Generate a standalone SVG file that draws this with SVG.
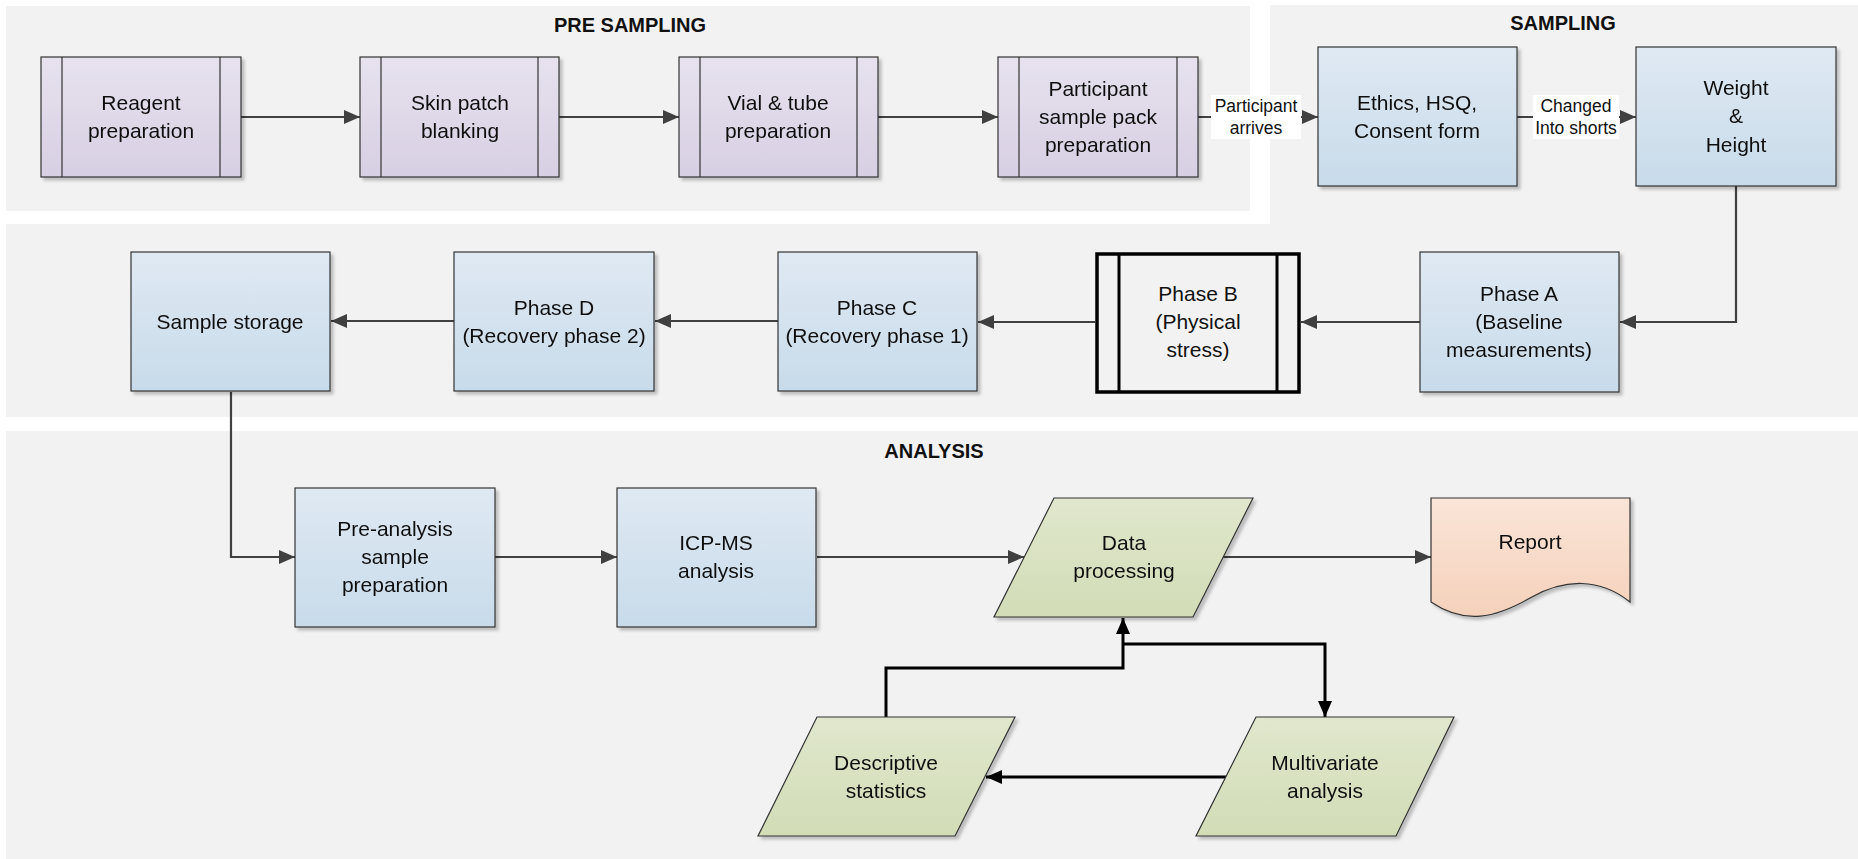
<svg xmlns="http://www.w3.org/2000/svg" width="1858" height="859" viewBox="0 0 1858 859">
<defs>
<linearGradient id="gP" x1="0" y1="0" x2="0" y2="1"><stop offset="0" stop-color="#e7e2ee"/><stop offset="1" stop-color="#d7cfe3"/></linearGradient>
<linearGradient id="gB" x1="0" y1="0" x2="0" y2="1"><stop offset="0" stop-color="#dfe9f3"/><stop offset="1" stop-color="#c8dbea"/></linearGradient>
<linearGradient id="gG" x1="0" y1="0" x2="0" y2="1"><stop offset="0" stop-color="#e0e7cd"/><stop offset="1" stop-color="#d2dcb6"/></linearGradient>
<linearGradient id="gR" x1="0" y1="0" x2="0" y2="1"><stop offset="0" stop-color="#fae5d8"/><stop offset="1" stop-color="#f5d1bb"/></linearGradient>
<filter id="sh" x="-10%" y="-10%" width="130%" height="130%"><feDropShadow dx="3" dy="3" stdDeviation="1.5" flood-color="#000" flood-opacity="0.22"/></filter>
<marker id="ag" markerUnits="userSpaceOnUse" markerWidth="16" markerHeight="14" refX="16" refY="7" orient="auto"><path d="M0,0 L16,7 L0,14 Z" fill="#404040"/></marker>
<marker id="ak" markerUnits="userSpaceOnUse" markerWidth="16" markerHeight="14" refX="16" refY="7" orient="auto"><path d="M0,0 L16,7 L0,14 Z" fill="#000"/></marker>
<style>
.panel{fill:#f2f2f2}
.t{font-family:"Liberation Sans",Arial,sans-serif;font-size:21px;fill:#111;text-anchor:middle}
.lbl{font-family:"Liberation Sans",Arial,sans-serif;font-size:17.5px;fill:#111;text-anchor:middle}
.ttl{font-family:"Liberation Sans",Arial,sans-serif;font-size:20px;font-weight:bold;fill:#111;text-anchor:middle}
.pp{fill:url(#gP);stroke:#333;stroke-width:1.2}
.bb{fill:url(#gB);stroke:#333;stroke-width:1.2}
.gg{fill:url(#gG);stroke:#333;stroke-width:1.2}
.rr{fill:url(#gR);stroke:#333;stroke-width:1.2}
.il{stroke:#333;stroke-width:1.2}
.cg{fill:none;stroke:#404040;stroke-width:2.2;marker-end:url(#ag)}
.cgn{fill:none;stroke:#404040;stroke-width:2.2}
.ck{fill:none;stroke:#000;stroke-width:3;marker-end:url(#ak)}
.ckn{fill:none;stroke:#000;stroke-width:3}
</style>
</defs>
<rect width="1858" height="859" fill="#fff"/>
<g id="panels">
<rect class="panel" x="6" y="6" width="1244" height="205"/>
<rect class="panel" x="1270" y="5" width="588" height="220"/>
<rect class="panel" x="6" y="224" width="1852" height="193"/>
<rect class="panel" x="6" y="431" width="1852" height="428"/>
<text class="ttl" x="630" y="32">PRE SAMPLING</text>
<text class="ttl" x="1563" y="30">SAMPLING</text>
<text class="ttl" x="934" y="458">ANALYSIS</text>
</g>
<g id="connectors">
<path class="cg" d="M241,117 H360"/>
<path class="cg" d="M559,117 H679"/>
<path class="cg" d="M878,117 H998"/>
<path class="cg" d="M1198,117 H1318"/>
<path class="cg" d="M1517,117 H1636"/>
<path class="cg" d="M1736,186 V322 H1620"/>
<path class="cg" d="M1420,322 H1301"/>
<path class="cg" d="M1095,322 H978"/>
<path class="cg" d="M778,321 H655"/>
<path class="cg" d="M454,321 H331"/>
<path class="cg" d="M231,392 V557 H295"/>
<path class="cg" d="M495,557 H617"/>
<path class="cg" d="M817,557 H1024"/>
<path class="cg" d="M1223,557 H1431"/>
<path class="ck" d="M886,717 V668 H1123 V618"/>
<path class="ck" d="M1123,644 H1325 V717"/>
<path class="ck" d="M1226,777 H986"/>
<g id="label-arrives">
<rect x="1211" y="95" width="90" height="44" fill="#fff"/>
<text class="lbl" x="1256" y="112">Participant</text>
<text class="lbl" x="1256" y="134">arrives</text>
</g>
<g id="label-changed">
<rect x="1533" y="95" width="86" height="44" fill="#fff"/>
<text class="lbl" x="1576" y="112">Changed</text>
<text class="lbl" x="1576" y="134">Into shorts</text>
</g>
</g>
<g id="reagent" filter="url(#sh)">
<rect class="pp" x="41" y="57" width="200" height="120"/>
<line class="il" x1="62" y1="57" x2="62" y2="177"/><line class="il" x1="220" y1="57" x2="220" y2="177"/>
<text class="t" x="141" y="110">Reagent</text><text class="t" x="141" y="138">preparation</text>
</g>
<g id="skin" filter="url(#sh)">
<rect class="pp" x="360" y="57" width="199" height="120"/>
<line class="il" x1="381" y1="57" x2="381" y2="177"/><line class="il" x1="538" y1="57" x2="538" y2="177"/>
<text class="t" x="460" y="110">Skin patch</text><text class="t" x="460" y="138">blanking</text>
</g>
<g id="vial" filter="url(#sh)">
<rect class="pp" x="679" y="57" width="199" height="120"/>
<line class="il" x1="700" y1="57" x2="700" y2="177"/><line class="il" x1="857" y1="57" x2="857" y2="177"/>
<text class="t" x="778" y="110">Vial &amp; tube</text><text class="t" x="778" y="138">preparation</text>
</g>
<g id="pack" filter="url(#sh)">
<rect class="pp" x="998" y="57" width="200" height="120"/>
<line class="il" x1="1019" y1="57" x2="1019" y2="177"/><line class="il" x1="1177" y1="57" x2="1177" y2="177"/>
<text class="t" x="1098" y="96">Participant</text><text class="t" x="1098" y="124">sample pack</text><text class="t" x="1098" y="152">preparation</text>
</g>
<g id="ethics" filter="url(#sh)">
<rect class="bb" x="1318" y="47" width="199" height="139"/>
<text class="t" x="1417" y="110">Ethics, HSQ,</text><text class="t" x="1417" y="138">Consent form</text>
</g>
<g id="weight" filter="url(#sh)">
<rect class="bb" x="1636" y="47" width="200" height="139"/>
<text class="t" x="1736" y="95">Weight</text><text class="t" x="1736" y="123">&amp;</text><text class="t" x="1736" y="152">Height</text>
</g>
<g id="phaseA" filter="url(#sh)">
<rect class="bb" x="1420" y="252" width="199" height="140"/>
<text class="t" x="1519" y="301">Phase A</text><text class="t" x="1519" y="329">(Baseline</text><text class="t" x="1519" y="357">measurements)</text>
</g>
<g id="phaseB">
<rect x="1097" y="254" width="202" height="138" fill="#f2f2f2" stroke="#000" stroke-width="3.5"/>
<line x1="1119" y1="254" x2="1119" y2="392" stroke="#000" stroke-width="3"/><line x1="1277" y1="254" x2="1277" y2="392" stroke="#000" stroke-width="3"/>
<text class="t" x="1198" y="301">Phase B</text><text class="t" x="1198" y="329">(Physical</text><text class="t" x="1198" y="357">stress)</text>
</g>
<g id="phaseC" filter="url(#sh)">
<rect class="bb" x="778" y="252" width="199" height="139"/>
<text class="t" x="877" y="315">Phase C</text><text class="t" x="877" y="343">(Recovery phase 1)</text>
</g>
<g id="phaseD" filter="url(#sh)">
<rect class="bb" x="454" y="252" width="200" height="139"/>
<text class="t" x="554" y="315">Phase D</text><text class="t" x="554" y="343">(Recovery phase 2)</text>
</g>
<g id="storage" filter="url(#sh)">
<rect class="bb" x="131" y="252" width="199" height="139"/>
<text class="t" x="230" y="329">Sample storage</text>
</g>
<g id="preanalysis" filter="url(#sh)">
<rect class="bb" x="295" y="488" width="200" height="139"/>
<text class="t" x="395" y="536">Pre-analysis</text><text class="t" x="395" y="564">sample</text><text class="t" x="395" y="592">preparation</text>
</g>
<g id="icpms" filter="url(#sh)">
<rect class="bb" x="617" y="488" width="199" height="139"/>
<text class="t" x="716" y="550">ICP-MS</text><text class="t" x="716" y="578">analysis</text>
</g>
<g id="dataproc" filter="url(#sh)">
<polygon class="gg" points="1054,498 1253,498 1193,617 994,617"/>
<text class="t" x="1124" y="550">Data</text><text class="t" x="1124" y="578">processing</text>
</g>
<g id="report" filter="url(#sh)">
<path class="rr" d="M1431,498 H1630 V602 C1600,578 1565,578 1530,598 C1495,618 1465,625 1431,602 Z"/>
<text class="t" x="1530" y="549">Report</text>
</g>
<g id="descriptive" filter="url(#sh)">
<polygon class="gg" points="817,717 1015,717 955,836 758,836"/>
<text class="t" x="886" y="770">Descriptive</text><text class="t" x="886" y="798">statistics</text>
</g>
<g id="multivariate" filter="url(#sh)">
<polygon class="gg" points="1256,717 1454,717 1396,836 1196,836"/>
<text class="t" x="1325" y="770">Multivariate</text><text class="t" x="1325" y="798">analysis</text>
</g>
</svg>
